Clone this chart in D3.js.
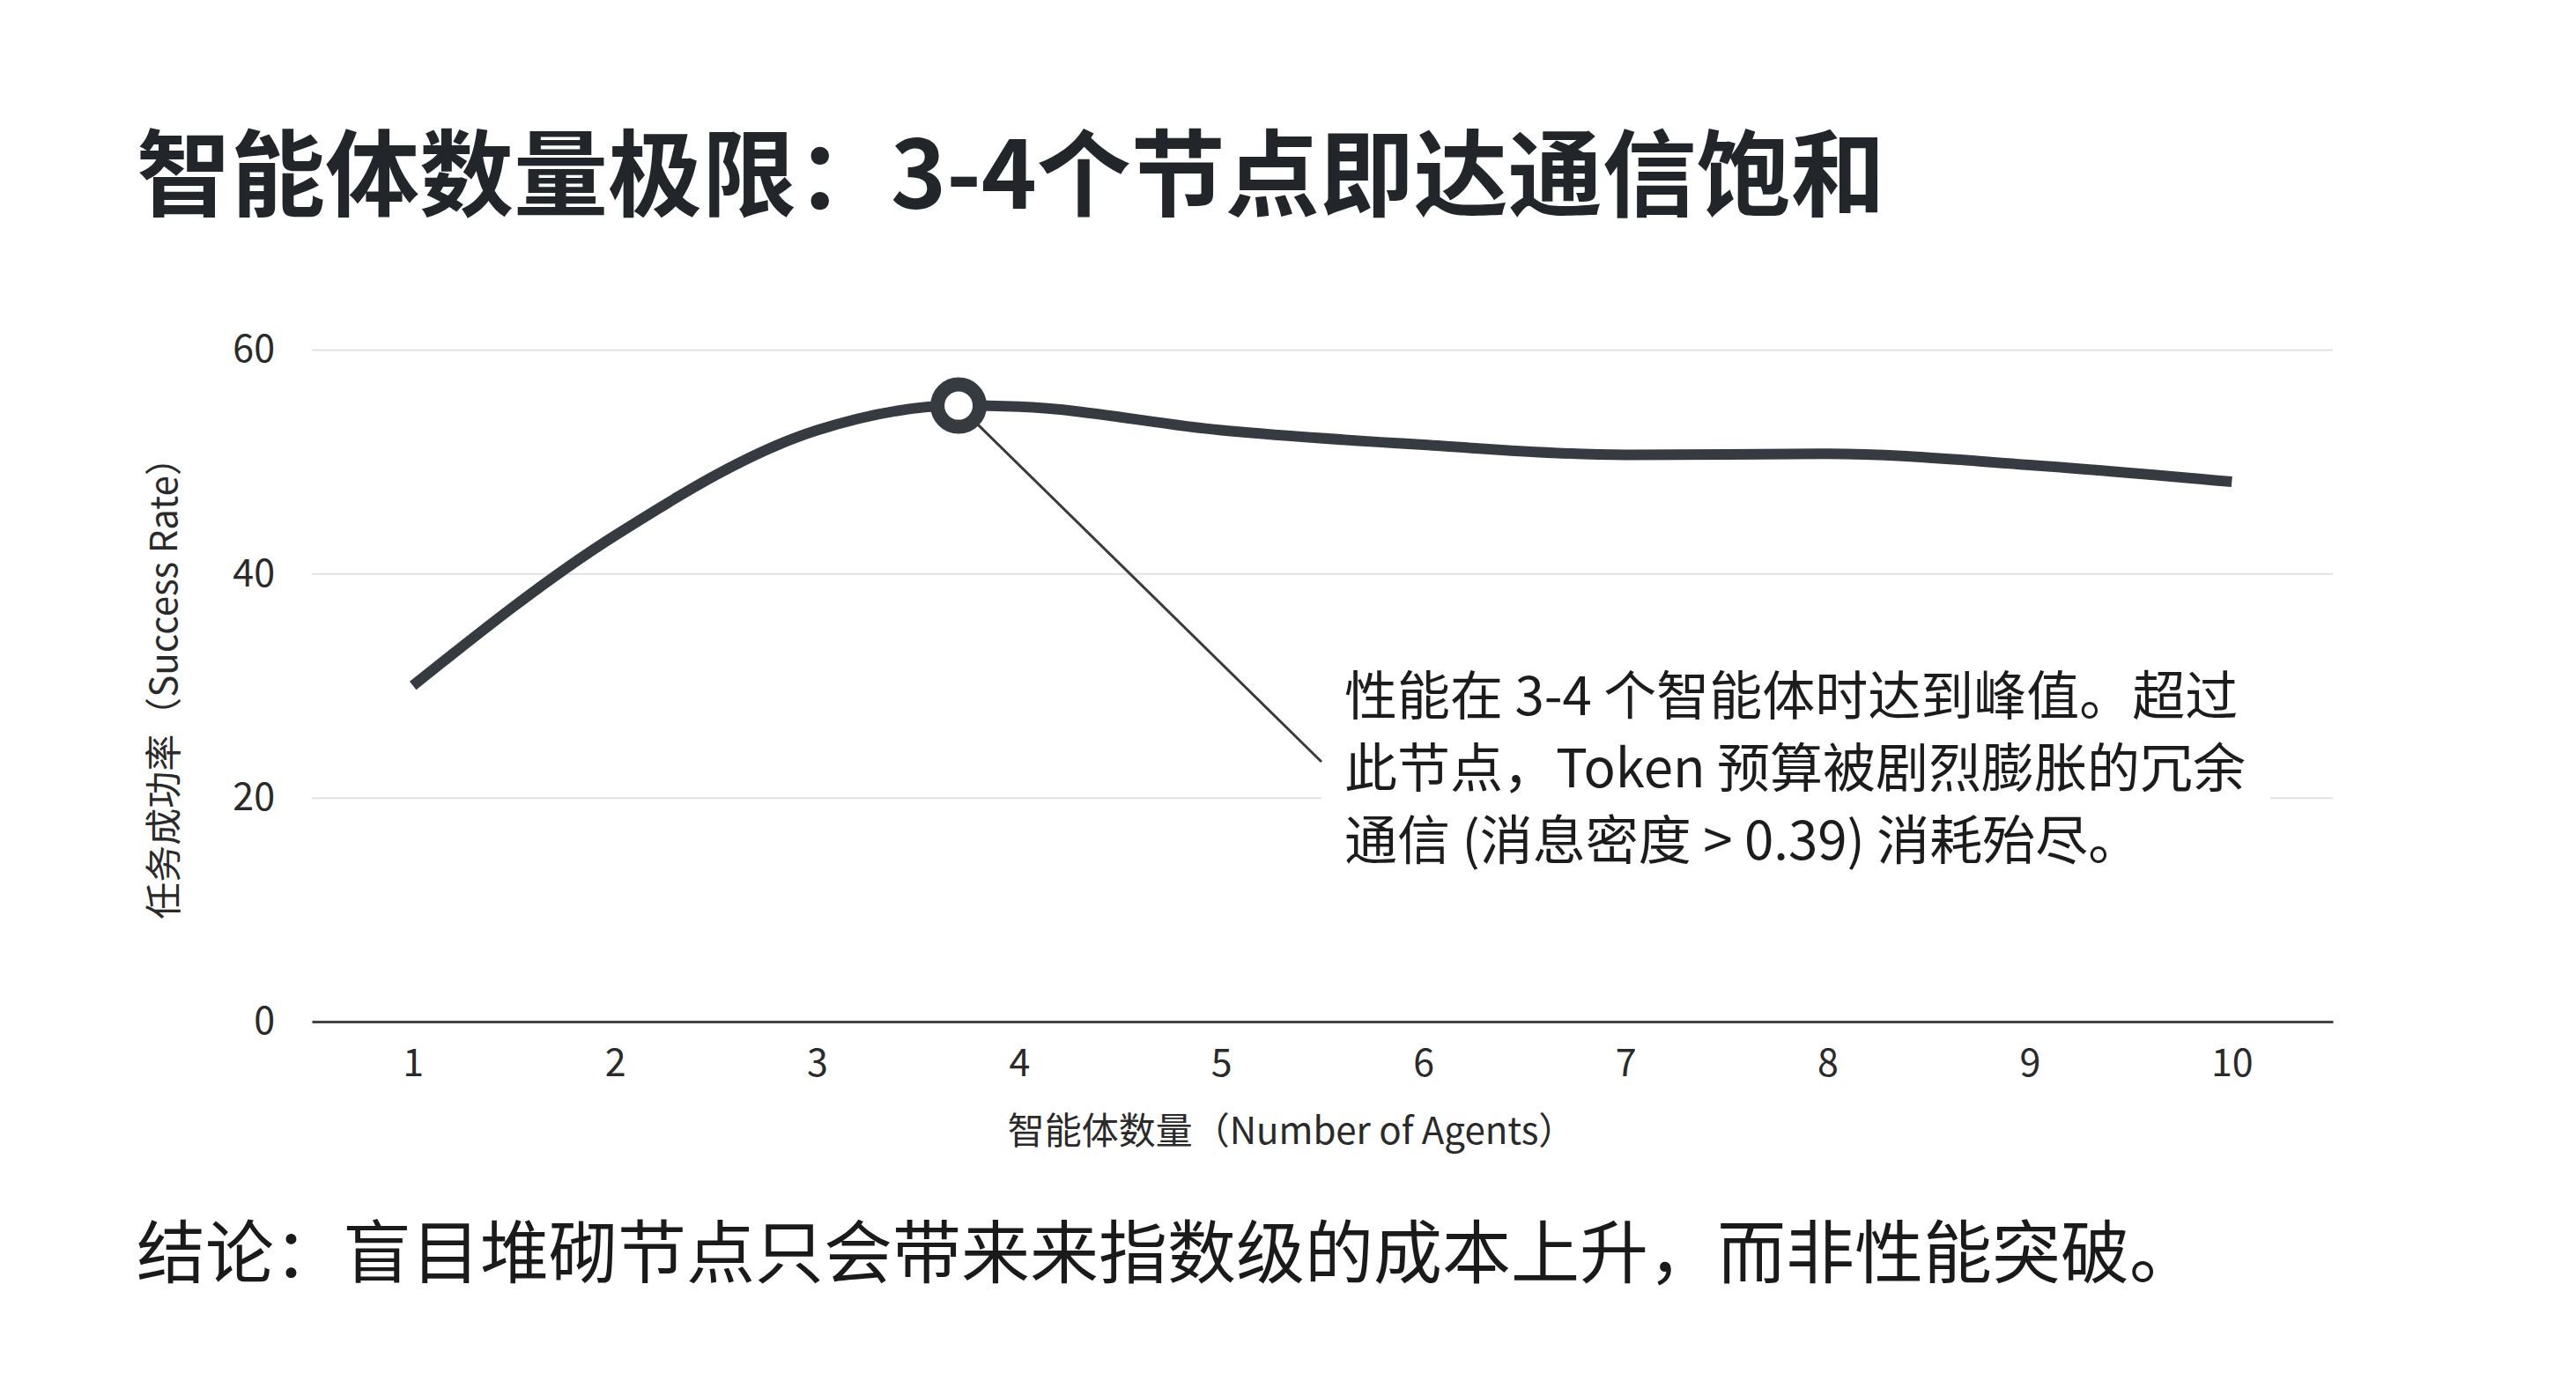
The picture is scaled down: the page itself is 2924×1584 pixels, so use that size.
<!DOCTYPE html>
<html>
<head>
<meta charset="utf-8">
<script src="https://cdn.jsdelivr.net/npm/d3@7"></script>
<style>
  html, body { margin: 0; padding: 0; background: #fff; }
  svg { display: block; font-family: "Noto Sans CJK SC", "Noto Sans", sans-serif; }
</style>
</head>
<body>
<svg id="chart" width="2924" height="1584"></svg>
<script>
// 数据
var agents = [1, 2, 3, 3.7, 4, 5, 6, 7, 8, 9, 10];
var successRate = [30, 43.4, 52.8, 55, 54.9, 52.8, 51.5, 50.6, 50.7, 49.7, 48.2];
var peakIndex = 3;
var xTicks = [1, 2, 3, 4, 5, 6, 7, 8, 9, 10];
var yTicks = [0, 20, 40, 60];

var titleText = "智能体数量极限：3-4个节点即达通信饱和";
var xLabel = "智能体数量（Number of Agents）";
var yLabel = "任务成功率（Success Rate）";
var noteLines = [
  "性能在 3-4 个智能体时达到峰值。超过",
  "此节点，Token 预算被剧烈膨胀的冗余",
  "通信 (消息密度 > 0.39) 消耗殆尽。"
];
var conclusion = "结论：盲目堆砌节点只会带来来指数级的成本上升，而非性能突破。";

var ink = "#363b42";
var svg = d3.select("#chart");

// 绘图区
var plot = { left: 354, right: 2648, top: 397, bottom: 1160 };

var x = d3.scaleLinear().domain([0.5, 10.5]).range([plot.left, plot.right]);
var y = d3.scaleLinear().domain([0, 60]).range([plot.bottom, plot.top]);

// 标题
svg.append("text")
  .attr("x", 155)
  .attr("y", 237)
  .attr("font-size", 107)
  .attr("font-weight", 700)
  .attr("fill", "#22262b")
  .text(titleText);

// 网格线 + y 轴刻度
var yAxis = svg.append("g")
  .attr("transform", "translate(" + plot.left + ",0)")
  .call(d3.axisLeft(y).tickValues(yTicks).tickSize(-(plot.right - plot.left)).tickPadding(42));

yAxis.select(".domain").remove();
yAxis.selectAll(".tick line")
  .attr("stroke", "#e1e1e1")
  .attr("stroke-width", 2);
yAxis.selectAll(".tick text")
  .attr("font-size", 43)
  .attr("fill", "#2a2a2a")
  .attr("font-family", "'Noto Sans CJK SC', sans-serif");

// x 轴
var xAxis = svg.append("g")
  .attr("transform", "translate(0," + plot.bottom + ")")
  .call(d3.axisBottom(x).tickValues(xTicks).tickSize(0).tickFormat(d3.format("d")));

xAxis.select(".domain")
  .attr("stroke", "#444")
  .attr("stroke-width", 3);
xAxis.selectAll(".tick text")
  .attr("y", 62)
  .attr("dy", 0)
  .attr("font-size", 43)
  .attr("fill", "#2a2a2a")
  .attr("font-family", "'Noto Sans CJK SC', sans-serif");

// 轴标题
svg.append("text")
  .attr("x", 1466)
  .attr("y", 1299)
  .attr("text-anchor", "middle")
  .attr("font-size", 42)
  .attr("fill", "#2a2a2a")
  .text(xLabel);

svg.append("text")
  .attr("transform", "translate(201,771) rotate(-90)")
  .attr("text-anchor", "middle")
  .attr("font-size", 42)
  .attr("fill", "#2a2a2a")
  .text(yLabel);

// 注释背景（遮住网格线）
svg.append("rect")
  .attr("x", 1500)
  .attr("y", 745)
  .attr("width", 1077)
  .attr("height", 255)
  .attr("fill", "#fff");

// 引线
svg.append("line")
  .attr("x1", x(agents[peakIndex]))
  .attr("y1", y(successRate[peakIndex]))
  .attr("x2", 1500)
  .attr("y2", 865)
  .attr("stroke", "#3a3a3a")
  .attr("stroke-width", 3);

// 曲线
var line = d3.line()
  .x(function (d, i) { return x(agents[i]); })
  .y(function (d) { return y(d); })
  .curve(d3.curveMonotoneX);

svg.append("path")
  .datum(successRate)
  .attr("d", line)
  .attr("fill", "none")
  .attr("stroke", ink)
  .attr("stroke-width", 12);

// 峰值标记
svg.append("circle")
  .attr("cx", x(agents[peakIndex]))
  .attr("cy", y(successRate[peakIndex]))
  .attr("r", 24)
  .attr("fill", "#fff")
  .attr("stroke", ink)
  .attr("stroke-width", 16);

// 注释文字
svg.append("g")
  .selectAll("text")
  .data(noteLines)
  .enter().append("text")
  .attr("x", 1526)
  .attr("y", function (d, i) { return 812 + i * 82; })
  .attr("font-size", 60)
  .attr("fill", "#1c1c1c")
  .text(function (d) { return d; });

// 结论
svg.append("text")
  .attr("x", 155)
  .attr("y", 1451)
  .attr("font-size", 78)
  .attr("fill", "#1a1a1a")
  .text(conclusion);
</script>
</body>
</html>
